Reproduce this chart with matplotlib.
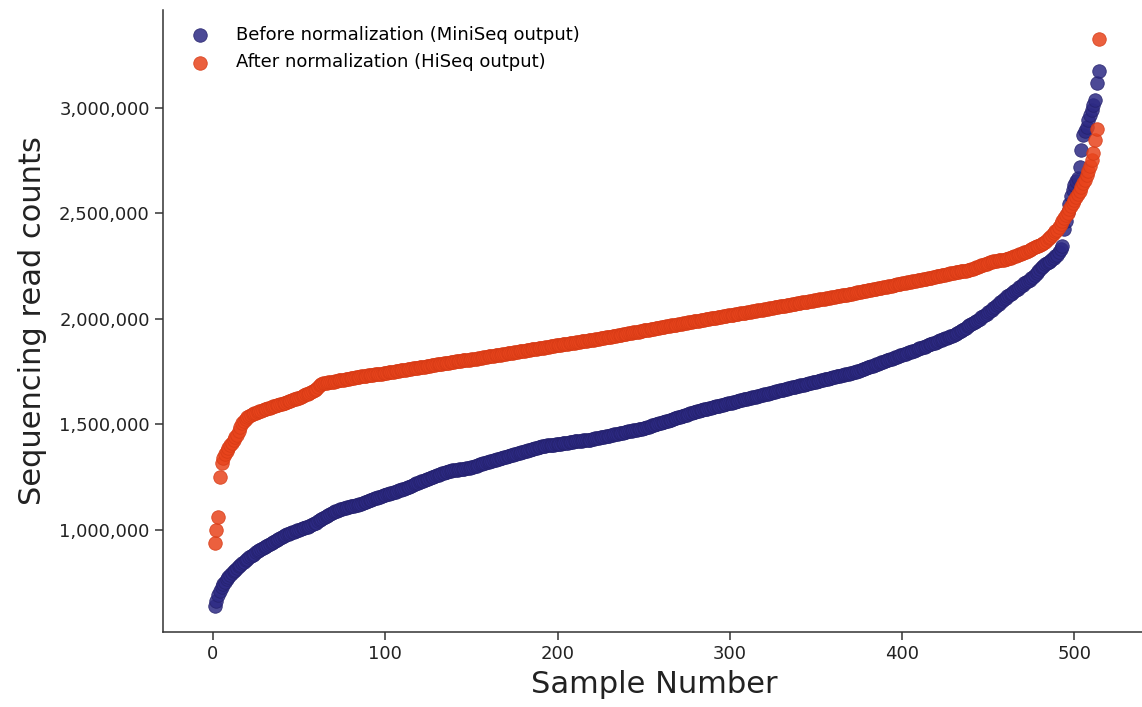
import matplotlib
matplotlib.use("Agg")
import matplotlib.pyplot as plt
from matplotlib.ticker import FuncFormatter
import numpy as np

# read counts in thousands, sorted, samples 1..514
before_k = [
    640, 662, 690, 712, 728, 742, 755, 766, 776, 786,
    795, 804, 812, 820, 828, 836, 843, 850, 857, 864,
    870, 876, 882, 888, 893, 898, 903, 908, 913, 918,
    923, 928, 933, 938, 943, 948, 953, 958, 963, 968,
    973, 977, 980, 983, 986, 989, 992, 995, 998, 1001,
    1004, 1007, 1010, 1013, 1016, 1019, 1023, 1027, 1031, 1035,
    1040, 1045, 1050, 1055, 1060, 1065, 1070, 1075, 1080, 1085,
    1088, 1091, 1094, 1097, 1100, 1103, 1105, 1107, 1109, 1111,
    1113, 1115, 1117, 1119, 1122, 1125, 1128, 1131, 1134, 1137,
    1140, 1143, 1146, 1149, 1152, 1155, 1158, 1161, 1164, 1167,
    1170, 1172, 1175, 1177, 1180, 1182, 1185, 1187, 1190, 1193,
    1196, 1199, 1202, 1205, 1208, 1212, 1216, 1220, 1224, 1228,
    1231, 1234, 1237, 1240, 1243, 1246, 1249, 1252, 1255, 1259,
    1262, 1265, 1268, 1271, 1274, 1276, 1278, 1280, 1282, 1284,
    1285, 1286, 1287, 1288, 1289, 1290, 1291, 1292, 1295, 1298,
    1300, 1303, 1305, 1308, 1310, 1312, 1315, 1317, 1320, 1322,
    1325, 1327, 1329, 1332, 1334, 1337, 1339, 1341, 1344, 1346,
    1349, 1351, 1353, 1356, 1358, 1361, 1363, 1365, 1368, 1370,
    1373, 1375, 1377, 1380, 1382, 1385, 1387, 1389, 1392, 1395,
    1396, 1397, 1398, 1400, 1401, 1402, 1403, 1404, 1406, 1407,
    1408, 1409, 1410, 1412, 1413, 1414, 1415, 1416, 1418, 1419,
    1420, 1421, 1422, 1423, 1424, 1425, 1426, 1427, 1428, 1430,
    1432, 1434, 1435, 1437, 1439, 1441, 1442, 1444, 1446, 1447,
    1449, 1451, 1453, 1454, 1456, 1458, 1460, 1461, 1463, 1465,
    1467, 1468, 1470, 1472, 1474, 1475, 1477, 1479, 1480, 1483,
    1485, 1488, 1490, 1493, 1495, 1498, 1500, 1503, 1505, 1508,
    1510, 1513, 1515, 1518, 1520, 1523, 1525, 1528, 1531, 1534,
    1536, 1539, 1541, 1544, 1546, 1549, 1552, 1555, 1558, 1561,
    1563, 1565, 1567, 1569, 1571, 1573, 1575, 1577, 1579, 1581,
    1583, 1585, 1587, 1589, 1591, 1593, 1595, 1597, 1599, 1601,
    1603, 1605, 1607, 1609, 1611, 1614, 1616, 1618, 1620, 1622,
    1624, 1626, 1628, 1630, 1632, 1634, 1636, 1638, 1640, 1642,
    1644, 1646, 1648, 1650, 1652, 1655, 1657, 1659, 1661, 1663,
    1665, 1667, 1669, 1671, 1673, 1675, 1677, 1679, 1681, 1683,
    1685, 1687, 1689, 1691, 1693, 1695, 1697, 1699, 1701, 1703,
    1705, 1707, 1709, 1711, 1713, 1715, 1717, 1719, 1721, 1723,
    1725, 1727, 1729, 1731, 1733, 1735, 1737, 1739, 1741, 1742,
    1743, 1746, 1749, 1752, 1755, 1758, 1761, 1764, 1767, 1770,
    1773, 1776, 1779, 1782, 1785, 1788, 1791, 1794, 1797, 1800,
    1803, 1806, 1809, 1812, 1815, 1818, 1821, 1824, 1827, 1829,
    1832, 1835, 1838, 1841, 1844, 1847, 1850, 1853, 1857, 1860,
    1863, 1866, 1869, 1872, 1876, 1879, 1882, 1885, 1888, 1892,
    1895, 1898, 1901, 1904, 1908, 1911, 1914, 1917, 1920, 1924,
    1929, 1934, 1939, 1944, 1949, 1954, 1959, 1964, 1969, 1974,
    1979, 1984, 1989, 1995, 2001, 2007, 2013, 2019, 2025, 2032,
    2038, 2044, 2050, 2057, 2064, 2071, 2078, 2085, 2092, 2100,
    2106, 2112, 2118, 2124, 2130, 2136, 2143, 2150, 2156, 2162,
    2168, 2174, 2180, 2186, 2193, 2200, 2208, 2216, 2225, 2235,
    2244, 2252, 2259, 2265, 2270, 2275, 2282, 2289, 2296, 2303,
    2318, 2330, 2343, 2425, 2465, 2505, 2545, 2580, 2610, 2635,
    2652, 2667, 2720, 2800, 2872, 2890, 2911, 2943, 2965, 2990,
    3015, 3038, 3117, 3175,
]

after_k = [
    938, 1000, 1063, 1250, 1317, 1340, 1360, 1375, 1390, 1402,
    1414, 1426, 1438, 1450, 1470, 1490, 1508, 1518, 1527, 1535,
    1540, 1544, 1548, 1552, 1556, 1559, 1562, 1565, 1568, 1571,
    1574, 1577, 1580, 1583, 1586, 1588, 1591, 1593, 1596, 1598,
    1600, 1603, 1606, 1609, 1612, 1615, 1618, 1621, 1624, 1627,
    1630, 1634, 1638, 1642, 1646, 1650, 1655, 1660, 1665, 1670,
    1678, 1685, 1690, 1694, 1696, 1697, 1699, 1700, 1702, 1703,
    1705, 1706, 1708, 1709, 1711, 1712, 1714, 1715, 1717, 1718,
    1720, 1721, 1723, 1724, 1726, 1727, 1729, 1730, 1731, 1733,
    1734, 1735, 1736, 1737, 1738, 1739, 1740, 1741, 1743, 1744,
    1745, 1746, 1748, 1749, 1750, 1752, 1753, 1754, 1756, 1757,
    1758, 1760, 1761, 1762, 1764, 1765, 1766, 1768, 1769, 1770,
    1772, 1773, 1774, 1776, 1777, 1778, 1780, 1781, 1782, 1784,
    1785, 1786, 1788, 1789, 1790, 1792, 1793, 1794, 1796, 1797,
    1798, 1800, 1801, 1802, 1803, 1804, 1805, 1806, 1807, 1808,
    1810, 1811, 1812, 1814, 1815, 1816, 1818, 1819, 1820, 1822,
    1823, 1824, 1826, 1827, 1828, 1830, 1831, 1832, 1834, 1835,
    1836, 1838, 1839, 1840, 1842, 1843, 1844, 1846, 1847, 1848,
    1850, 1851, 1852, 1854, 1855, 1856, 1858, 1859, 1860, 1862,
    1863, 1864, 1866, 1867, 1868, 1870, 1871, 1872, 1874, 1875,
    1876, 1878, 1879, 1880, 1882, 1883, 1884, 1886, 1887, 1888,
    1890, 1891, 1892, 1894, 1895, 1896, 1897, 1898, 1899, 1900,
    1901, 1903, 1904, 1906, 1907, 1909, 1910, 1912, 1913, 1915,
    1916, 1918, 1919, 1921, 1922, 1924, 1925, 1927, 1928, 1930,
    1931, 1933, 1934, 1936, 1937, 1939, 1940, 1942, 1943, 1945,
    1946, 1948, 1949, 1951, 1952, 1954, 1955, 1957, 1958, 1960,
    1961, 1963, 1964, 1966, 1967, 1969, 1970, 1972, 1973, 1975,
    1976, 1978, 1979, 1981, 1982, 1984, 1985, 1987, 1988, 1990,
    1991, 1992, 1993, 1995, 1996, 1998, 1999, 2000, 2002, 2003,
    2005, 2006, 2007, 2009, 2010, 2012, 2013, 2014, 2016, 2017,
    2019, 2020, 2022, 2023, 2024, 2026, 2027, 2028, 2030, 2031,
    2033, 2034, 2036, 2037, 2039, 2040, 2041, 2043, 2044, 2046,
    2047, 2049, 2050, 2052, 2053, 2054, 2056, 2057, 2059, 2060,
    2062, 2063, 2065, 2066, 2067, 2069, 2070, 2072, 2073, 2075,
    2076, 2078, 2079, 2080, 2082, 2083, 2085, 2086, 2088, 2089,
    2091, 2092, 2093, 2095, 2096, 2098, 2099, 2101, 2102, 2104,
    2105, 2106, 2108, 2109, 2111, 2112, 2114, 2115, 2117, 2118,
    2120, 2121, 2123, 2125, 2126, 2128, 2130, 2131, 2133, 2135,
    2136, 2138, 2140, 2141, 2143, 2145, 2146, 2148, 2150, 2151,
    2153, 2155, 2156, 2158, 2160, 2161, 2163, 2165, 2166, 2168,
    2170, 2171, 2173, 2175, 2176, 2178, 2180, 2181, 2183, 2185,
    2186, 2188, 2190, 2191, 2193, 2195, 2196, 2198, 2200, 2201,
    2203, 2205, 2206, 2208, 2210, 2211, 2213, 2215, 2216, 2218,
    2220, 2221, 2223, 2225, 2226, 2228, 2229, 2231, 2232, 2235,
    2238, 2241, 2244, 2247, 2250, 2253, 2256, 2259, 2262, 2265,
    2268, 2270, 2272, 2274, 2276, 2277, 2278, 2279, 2280, 2282,
    2284, 2287, 2290, 2293, 2296, 2299, 2302, 2305, 2308, 2311,
    2315, 2319, 2323, 2327, 2331, 2335, 2339, 2343, 2347, 2351,
    2355, 2359, 2366, 2374, 2382, 2390, 2398, 2406, 2414, 2422,
    2435, 2449, 2462, 2476, 2490, 2504, 2519, 2533, 2548, 2562,
    2577, 2591, 2606, 2624, 2642, 2659, 2680, 2701, 2722, 2754,
    2785, 2848, 2899, 3327,
]

x_ticks = [0, 100, 200, 300, 400, 500]
y_ticks = [1000000, 1500000, 2000000, 2500000, 3000000]

before = np.array(before_k) * 1000
after = np.array(after_k) * 1000
samples = np.arange(1, len(before) + 1)
samples_after = np.arange(1, len(after) + 1)

fig = plt.figure(figsize=(11.42, 7.07), dpi=100)
ax = fig.add_axes([0.1427, 0.106, 0.86, 0.88])

ax.scatter(samples, before, s=95, color="#2d2a84", alpha=0.85,
           edgecolors="#24216c", linewidths=0.6,
           label="Before normalization (MiniSeq output)", zorder=2)
ax.scatter(samples_after, after, s=95, color="#e8441c", alpha=0.85,
           edgecolors="#d63a15", linewidths=0.6,
           label="After normalization (HiSeq output)", zorder=3)

ax.set_xlim(-29, 541)
ax.set_ylim(516000, 3464000)
ax.set_xticks(x_ticks)
ax.set_yticks(y_ticks)
ax.yaxis.set_major_formatter(FuncFormatter(lambda v, p: "{:,.0f}".format(v)))
ax.tick_params(labelsize=13, length=6, width=1.1, colors="#333333",
               labelcolor="#222222")

for side in ["top", "right"]:
    ax.spines[side].set_visible(False)
for side in ["left", "bottom"]:
    ax.spines[side].set_linewidth(1.1)
    ax.spines[side].set_color("#333333")

ax.set_xlabel("Sample Number", fontsize=22, color="#222222", labelpad=5)
ax.set_ylabel("Sequencing read counts", fontsize=22, color="#222222",
              labelpad=9)

ax.legend(loc="upper left", frameon=False, fontsize=13,
          bbox_to_anchor=(0.003, 1.001), handletextpad=1.0,
          labelspacing=0.55)

fig.savefig("out.png", dpi=100)
